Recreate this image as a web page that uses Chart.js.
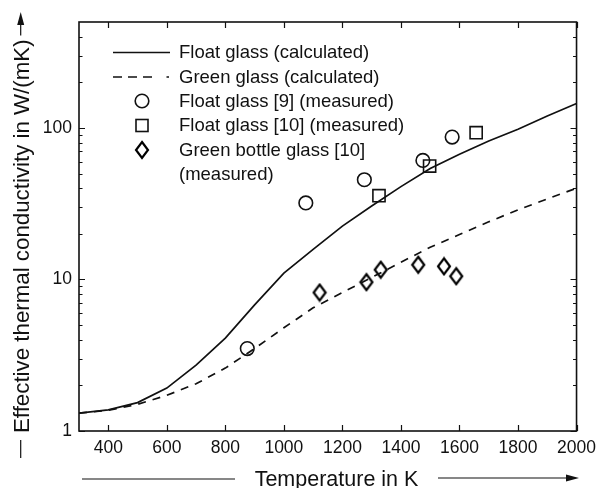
<!DOCTYPE html>
<html>
<head>
<meta charset="utf-8">
<script src="https://cdn.jsdelivr.net/npm/chart.js@4/dist/chart.umd.min.js"></script>
<style>
  html, body { margin: 0; padding: 0; background: #ffffff; }
  #wrap { width: 603px; height: 488px; }
</style>
</head>
<body>
<div id="wrap"><canvas id="c" width="603" height="488"></canvas></div>
<script>
// ---- data ----
const curveTemps = [300, 400, 500, 600, 700, 800, 900, 1000, 1100, 1200, 1300, 1400, 1500, 1600, 1700, 1800, 1900, 2000];
const floatCalc  = [1.31, 1.38, 1.54, 1.92, 2.72, 4.1, 6.8, 11.0, 15.8, 22.5, 30.5, 41, 54, 67, 82, 98, 120, 145];
const greenCalc  = [1.31, 1.37, 1.50, 1.72, 2.05, 2.6, 3.5, 4.8, 6.5, 8.2, 10.3, 13.0, 16.3, 19.8, 24.0, 28.8, 34.0, 40.0];

const float9T = [875, 1075, 1275, 1475, 1575];
const float9K = [3.5, 32, 45.5, 61, 87];

const float10T = [1325, 1498, 1657];
const float10K = [35.7, 56, 93];

const greenBottleT = [1122, 1282, 1331, 1459, 1547, 1589];
const greenBottleK = [8.2, 9.6, 11.6, 12.5, 12.2, 10.5];

const xTickValues = [400, 600, 800, 1000, 1200, 1400, 1600, 1800, 2000];
const yTickValues = [1,2,3,4,5,6,7,8,9,10,20,30,40,50,60,70,80,90,100,200,300,400];
const yLabelValues = [1, 10, 100];

const legendLabels = [
  'Float glass (calculated)',
  'Green glass (calculated)',
  'Float glass [9] (measured)',
  'Float glass [10] (measured)',
  'Green bottle glass [10]',
  '(measured)'
];
const xTitle = 'Temperature in K';
const yTitle = 'Effective thermal conductivity in W/(mK)';

// ---- styling ----
const INK = '#111111';
const FONT = '"Liberation Sans", Arial, Helvetica, sans-serif';

function makeDiamond() {
  const cv = document.createElement('canvas');
  cv.width = 16; cv.height = 20;
  const g = cv.getContext('2d');
  g.strokeStyle = '#000000'; g.lineWidth = 2.2;
  g.lineJoin = 'miter';
  g.beginPath();
  g.moveTo(8, 2); g.lineTo(14, 10); g.lineTo(8, 18); g.lineTo(2, 10); g.closePath();
  g.stroke();
  return cv;
}
const diamondImg = makeDiamond();

const pairs = (xs, ys) => xs.map((x, i) => ({ x: x, y: ys[i] }));

const datasets = [
  { label: legendLabels[0], data: pairs(curveTemps, floatCalc), borderColor: INK, borderWidth: 1.7,
    pointRadius: 0, tension: 0, fill: false, showLine: true },
  { label: legendLabels[1], data: pairs(curveTemps, greenCalc), borderColor: INK, borderWidth: 1.7,
    borderDash: [8, 7], pointRadius: 0, tension: 0, fill: false, showLine: true },
  { label: legendLabels[2], data: pairs(float9T, float9K), showLine: false, pointStyle: 'circle',
    pointRadius: 6.8, borderColor: INK, borderWidth: 1.6, backgroundColor: 'rgba(0,0,0,0)' },
  { label: legendLabels[3], data: pairs(float10T, float10K), showLine: false, pointStyle: 'rect',
    pointRadius: 8.6, borderColor: INK, borderWidth: 1.6, backgroundColor: 'rgba(0,0,0,0)' },
  { label: legendLabels[4], data: pairs(greenBottleT, greenBottleK), showLine: false, pointStyle: diamondImg,
    pointRadius: 8, borderColor: INK, backgroundColor: 'rgba(0,0,0,0)' }
];

const frameAndDecor = {
  id: 'frameAndDecor',
  afterDatasetsDraw(chart) {
    const ctx = chart.ctx;
    const a = chart.chartArea;
    const xs = chart.scales.x, ys = chart.scales.y;
    ctx.save();
    ctx.strokeStyle = INK;
    ctx.fillStyle = INK;
    // frame
    ctx.lineWidth = 1.6;
    ctx.strokeRect(a.left, a.top, a.right - a.left, a.bottom - a.top);
    // inward ticks
    ctx.lineWidth = 1.2;
    ctx.beginPath();
    xTickValues.forEach(v => {
      const px = Math.round(xs.getPixelForValue(v)) + 0.5;
      ctx.moveTo(px, a.bottom); ctx.lineTo(px, a.bottom - 6);
      ctx.moveTo(px, a.top); ctx.lineTo(px, a.top + 6);
    });
    yTickValues.forEach(v => {
      const py = Math.round(ys.getPixelForValue(v)) + 0.5;
      const len = yLabelValues.includes(v) ? 6 : 3.5;
      ctx.moveTo(a.left, py); ctx.lineTo(a.left + len, py);
      ctx.moveTo(a.right, py); ctx.lineTo(a.right - len, py);
    });
    ctx.stroke();

    // legend
    const lx0 = 113, lx1 = 170, tx = 179, mx = 142;
    const rows = [52.5, 77, 101, 125.5, 150, 174.5];
    ctx.font = '18.5px ' + FONT;
    ctx.textBaseline = 'middle';
    ctx.textAlign = 'left';
    legendLabels.forEach((t, i) => ctx.fillText(t, tx, rows[i] + 0.5));
    ctx.lineWidth = 1.7;
    ctx.beginPath(); ctx.moveTo(lx0, rows[0]); ctx.lineTo(lx1, rows[0]); ctx.stroke();
    ctx.beginPath();
    [[113, 122], [128, 137], [143, 152], [166.5, 169]].forEach(s => {
      ctx.moveTo(s[0], rows[1]); ctx.lineTo(s[1], rows[1]);
    });
    ctx.stroke();
    ctx.lineWidth = 1.6;
    ctx.beginPath(); ctx.arc(mx, rows[2], 6.8, 0, Math.PI * 2); ctx.stroke();
    ctx.strokeRect(mx - 6, rows[3] - 6, 12, 12);
    ctx.drawImage(diamondImg, Math.round(mx - diamondImg.width / 2), Math.round(rows[4] - diamondImg.height / 2));

    // x-axis title with arrow line
    ctx.font = '21.5px ' + FONT;
    ctx.textAlign = 'center';
    ctx.textBaseline = 'alphabetic';
    ctx.fillText(xTitle, 336.5, 486);
    ctx.lineWidth = 1.2;
    ctx.beginPath();
    ctx.moveTo(82, 479); ctx.lineTo(235, 479);
    ctx.moveTo(438, 478); ctx.lineTo(570, 478);
    ctx.stroke();
    ctx.beginPath();
    ctx.moveTo(579, 478); ctx.lineTo(566, 474.5); ctx.lineTo(566, 481.5); ctx.closePath(); ctx.fill();

    // y-axis title, rotated
    ctx.save();
    ctx.font = '22.3px ' + FONT;
    ctx.translate(28.5, 433);
    ctx.rotate(-Math.PI / 2);
    ctx.textAlign = 'left';
    ctx.textBaseline = 'alphabetic';
    ctx.fillText(yTitle, 0, 0);
    const w = ctx.measureText(yTitle).width;
    ctx.lineWidth = 1.2;
    ctx.beginPath();
    ctx.moveTo(-25, -7.8); ctx.lineTo(-7, -7.8);
    ctx.moveTo(w + 4, -7.8); ctx.lineTo(411, -7.8);
    ctx.stroke();
    ctx.beginPath();
    ctx.moveTo(421, -7.8); ctx.lineTo(408, -11.3); ctx.lineTo(408, -4.3); ctx.closePath(); ctx.fill();
    ctx.restore();

    ctx.restore();
  }
};

const whiteBg = {
  id: 'whiteBg',
  beforeDraw(chart) {
    const ctx = chart.ctx;
    ctx.save();
    ctx.fillStyle = '#ffffff';
    ctx.fillRect(0, 0, chart.width, chart.height);
    ctx.restore();
  }
};

new Chart(document.getElementById('c'), {
  type: 'scatter',
  data: { datasets: datasets },
  options: {
    responsive: false,
    devicePixelRatio: 1,
    animation: false,
    layout: { padding: { left: 0, right: 22, top: 22, bottom: 0 } },
    plugins: { legend: { display: false }, tooltip: { enabled: false } },
    scales: {
      x: {
        type: 'linear', min: 300, max: 2000,
        afterBuildTicks: s => { s.ticks = xTickValues.map(v => ({ value: v })); },
        afterFit: s => { s.height = 57; },
        grid: { display: false, drawTicks: false },
        border: { display: false },
        ticks: { color: INK, font: { family: FONT, size: 17.5 }, padding: 7, maxRotation: 0, autoSkip: false,
                 callback: v => String(v) }
      },
      y: {
        type: 'logarithmic', min: 1, max: 500,
        afterBuildTicks: s => { s.ticks = yTickValues.map(v => ({ value: v })); },
        afterFit: s => { s.width = 79; },
        grid: { display: false, drawTicks: false },
        border: { display: false },
        ticks: { color: INK, font: { family: FONT, size: 17.5 }, padding: 7, autoSkip: false,
                 callback: v => yLabelValues.includes(v) ? String(v) : '' }
      }
    }
  },
  plugins: [whiteBg, frameAndDecor]
});
</script>
</body>
</html>
